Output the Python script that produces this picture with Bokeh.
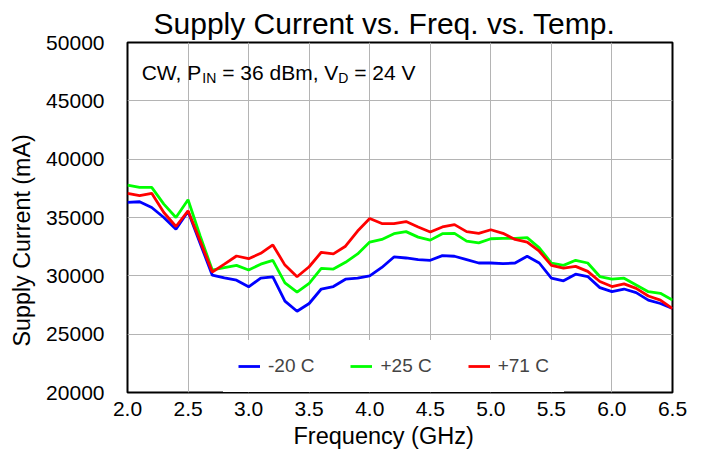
import math
from bokeh.plotting import figure
from bokeh.models import Range1d, Label, Legend, LegendItem, FixedTicker, Title
from bokeh.embed import file_html
from bokeh.resources import INLINE

freq = [round(2.0 + 0.1 * i, 1) for i in range(46)]

cold = [36290, 36350, 35860, 35000, 34000, 35520, 32780, 30060, 29830, 29630,
        29060, 29800, 29920, 27830, 26960, 27630, 28870, 29080, 29710, 29800,
        30000, 30720, 31620, 31530, 31390, 31330, 31730, 31680, 31390, 31100,
        31100, 31040, 31100, 31680, 31100, 29800, 29570, 30140, 29940, 28990,
        28640, 28870, 28560, 27920, 27630, 27200]

room = [37780, 37580, 37580, 36150, 35000, 36520, 33410, 30500, 30700, 30900,
        30500, 31000, 31330, 29400, 28600, 29360, 30640, 30580, 31160, 31880,
        32890, 33120, 33610, 33790, 33320, 33060, 33610, 33640, 32980, 32830,
        33180, 33210, 33210, 33270, 32400, 31100, 30900, 31330, 31100, 29940,
        29710, 29800, 29220, 28640, 28500, 27920]

hot = [37070, 36870, 37070, 35430, 34230, 35570, 32980, 30320, 31000, 31700,
       31470, 31930, 32650, 30920, 29920, 30780, 32020, 31880, 32540, 33840,
       34910, 34480, 34480, 34650, 34190, 33760, 34190, 34390, 33790, 33640,
       33950, 33640, 33120, 32890, 32110, 30900, 30660, 30810, 30380, 29510,
       29080, 29310, 28930, 28270, 27920, 27200]

series_names = ["-20 C", "+25 C", "+71 C"]
series_colors = ["#0000FF", "#00FF00", "#FF0000"]

x_ticks = [2.0, 2.5, 3.0, 3.5, 4.0, 4.5, 5.0, 5.5, 6.0, 6.5]
y_ticks = [20000, 25000, 30000, 35000, 40000, 45000, 50000]

title_text = "Supply Current vs. Freq. vs. Temp."
x_label = "Frequency (GHz)"
y_label = "Supply Current (mA)"

FONT = "Liberation Sans"

p = figure(frame_width=545, frame_height=350, output_backend="svg", toolbar_location=None,
           x_range=Range1d(2.0, 6.5), y_range=Range1d(20000, 50000),
           min_border_left=127, min_border_right=15, min_border_top=42,
           min_border_bottom=50)
p.title.visible = False

p.outline_line_color = "black"
p.outline_line_width = 2
p.background_fill_color = "white"
p.border_fill_color = "white"

p.xaxis.ticker = FixedTicker(ticks=x_ticks)
p.yaxis.ticker = FixedTicker(ticks=y_ticks)
p.xaxis.major_label_overrides = {t: f"{t:.1f}" for t in x_ticks}
p.yaxis.major_label_overrides = {t: str(t) for t in y_ticks}

for ax in (p.xaxis, p.yaxis):
    ax.axis_line_color = None
    ax.major_tick_line_color = None
    ax.minor_tick_line_color = None
    ax.major_label_text_font = FONT
    ax.major_label_text_font_size = "21px"
    ax.major_label_text_color = "black"

p.xaxis.major_label_standoff = 3
p.yaxis.major_label_standoff = 17

p.grid.grid_line_color = "#B4B4B4"
p.grid.grid_line_width = 1

renderers = []
for data, color in zip([cold, room, hot], series_colors):
    r = p.line(freq, data, line_color=color, line_width=2.8)
    renderers.append(r)

legend = Legend(items=[LegendItem(label=n, renderers=[r]) for n, r in zip(series_names, renderers)],
                orientation="horizontal", location=(96, 0),
                label_text_font=FONT, label_text_font_size="19px",
                glyph_width=22, glyph_height=20, label_standoff=8, spacing=36,
                padding=15, margin=0, border_line_alpha=0,
                background_fill_color="white", background_fill_alpha=1.0)
p.add_layout(legend, "center")

# title and axis labels as side-panel titles
p.add_layout(Title(text=title_text, align="left", offset=26, standoff=6,
                   vertical_align="bottom", text_font=FONT, text_font_size="30px",
                   text_font_style="normal", text_color="black"), "above")
p.add_layout(Title(text=x_label, align="left", offset=166, standoff=4,
                   vertical_align="bottom", text_font=FONT, text_font_size="23.5px",
                   text_font_style="normal", text_color="black"), "below")
p.add_layout(Title(text=y_label, align="left", offset=46, standoff=15,
                   vertical_align="middle", text_font=FONT, text_font_size="23.3px",
                   text_font_style="normal", text_color="black"), "left")

# annotation with subscripts
main_size = 21
sub_size = 14
x0 = 2.117
y0 = 47390
pieces = [("CW, P", main_size, 0, 2.889, 0.0), ("IN", sub_size, -5, 1.0, 0.0),
          ("= 36 dBm, V", main_size, 0, 5.531, 0.278), ("D", sub_size, -5, 0.722, 0.0),
          ("= 24 V", main_size, 0, 2.919, 0.278)]
offset = 0.0
for txt, size, dy, em, lead in pieces:
    offset += lead * size
    p.add_layout(Label(x=x0, y=y0, x_offset=offset, y_offset=dy, text=txt,
                       text_font=FONT, text_font_size=f"{size}px",
                       text_baseline="alphabetic", text_align="left",
                       text_color="black"))
    offset += em * size

open("out.html", "w").write(file_html(p, INLINE))
